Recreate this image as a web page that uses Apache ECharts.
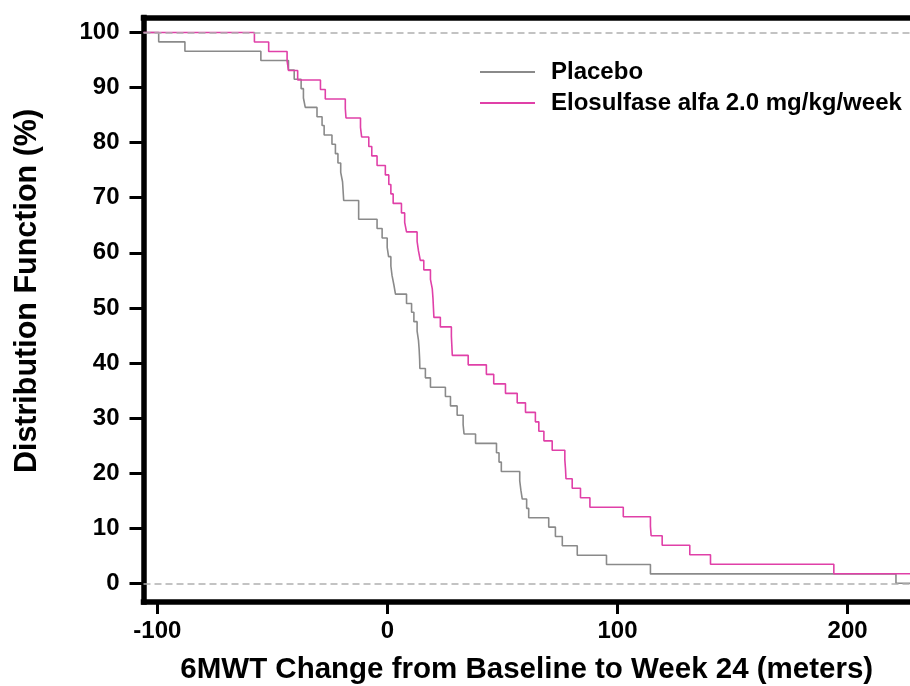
<!DOCTYPE html>
<html>
<head>
<meta charset="utf-8">
<script src="https://cdn.jsdelivr.net/npm/echarts@6/dist/echarts.min.js"></script>
<style>
  html, body { margin: 0; padding: 0; background: #fff; }
  #chart { width: 910px; height: 686px; }
</style>
</head>
<body>
<div id="chart"></div>
<script>
// step points: value holds until the next x, drop happens at each x
const placeboX = [-106, -99.4, -88, -55, -43, -40.5, -37.5, -36.5, -35.7, -30.6, -28.4, -27.5, -24.1, -22.6, -21.5, -20.3, -19.5, -19,
  -12.5, -4.5, -2.3, -0.1, 0.5, 1.5, 2, 2.8, 3.5, 8.3, 10.5, 11.5, 12.9, 13.5, 13.8, 14, 14.1, 16.5, 18.7,
  25.2, 27.4, 30.3, 32.9, 33.3, 38.3, 47.4, 48.5, 49.5, 57.5, 58, 58.6, 60.5, 61.4, 70.1, 73, 76, 82.5, 95.2, 114.3, 221, 240]
const placeboY = [100, 98.3, 96.6, 94.9, 93.2, 91.5, 89.8, 88.1, 86.4, 84.7, 83.1, 81.4, 79.7, 78.0, 76.3, 74.6, 72.9, 69.5,
  66.1, 64.4, 62.7, 61.0, 59.3, 57.6, 55.9, 54.2, 52.5, 50.8, 49.2, 47.5, 45.8, 44.1, 42.4, 40.7, 39.0, 37.3, 35.6,
  33.9, 32.2, 30.5, 28.8, 27.1, 25.4, 23.7, 22.0, 20.3, 18.6, 16.9, 15.3, 13.6, 11.9, 10.2, 8.5, 6.8, 5.1, 3.4, 1.7, 0, 0]

const eloX = [-106, -57.8, -51.6, -43.6, -43, -39, -29.1, -27, -18.3, -18, -11.7, -11.2, -8.1, -6.8, -4.5, -0.9, 0.6, 1.5, 2.5,
  6.1, 7.5, 8.3, 12.9, 13.5, 14.3, 15.8, 18.7, 19.5, 19.8, 20, 20.2, 23, 27.8, 28, 28.2, 35.1, 43, 46.2, 51.3, 56.4,
  60, 64.3, 65.8, 68, 71.6, 77.1, 77.4, 77.6, 80.3, 83.9, 88, 102.5, 114.3, 114.6, 119.4, 131.4, 140.4, 194, 240]
const eloY = [100, 98.28, 96.55, 94.83, 93.1, 91.38, 89.66, 87.93, 86.21, 84.48, 82.76, 81.03, 79.31, 77.59, 75.86, 74.14, 72.41, 70.69, 68.97,
  67.24, 65.52, 63.79, 62.07, 60.34, 58.62, 56.9, 55.17, 53.45, 51.72, 50.0, 48.28, 46.55, 44.83, 43.1, 41.38, 39.66, 37.93, 36.21, 34.48, 32.76,
  31.03, 29.31, 27.59, 25.86, 24.14, 22.41, 20.69, 18.97, 17.24, 15.52, 13.79, 12.07, 10.34, 8.62, 6.9, 5.17, 3.45, 1.72, 1.72]

const xTicks = [-100, 0, 100, 200]
const yTicks = [0, 10, 20, 30, 40, 50, 60, 70, 80, 90, 100]
const refLines = [0, 100]

const font = '"Liberation Sans", Arial, sans-serif'
const frame = { show: true, onZero: false, lineStyle: { color: '#000', width: 5.5, cap: 'square' } }

const toPairs = (xs, ys) => xs.map((x, i) => [x, ys[i]])

const chart = echarts.init(document.getElementById('chart'))
chart.setOption({
  animation: false,
  textStyle: { fontFamily: font },
  grid: {
    left: 143.5,
    right: 0,
    top: 17.5,
    bottom: 84,
    outerBoundsMode: 'none',
  },
  legend: {
    orient: 'vertical',
    left: 475,
    top: 55,
    icon: 'rect',
    itemWidth: 55,
    itemHeight: 2,
    itemGap: 7,
    textStyle: {
      fontFamily: font,
      fontSize: 24,
      fontWeight: 'bold',
      color: '#000',
      padding: [0, 0, 0, 11],
    },
    data: ['Placebo', 'Elosulfase alfa 2.0 mg/kg/week'],
  },
  xAxis: [{
    type: 'value',
    position: 'bottom',
    min: -106,
    max: 227.1,
    name: '6MWT Change from Baseline to Week 24 (meters)',
    nameLocation: 'middle',
    nameGap: 53,
    nameTextStyle: { fontSize: 29.5, fontWeight: 'bold', color: '#000', fontFamily: font },
    splitLine: { show: false },
    axisLine: frame,
    axisTick: {
      show: true,
      length: 12,
      customValues: xTicks,
      lineStyle: { color: '#000', width: 3 },
    },
    axisLabel: {
      customValues: xTicks,
      margin: 17,
      fontSize: 24,
      fontWeight: 'bold',
      color: '#000',
      fontFamily: font,
    },
  }, {
    // top edge of the frame only
    type: 'value',
    position: 'top',
    min: -106,
    max: 227.1,
    splitLine: { show: false },
    axisLine: frame,
    axisTick: { show: false },
    axisLabel: { show: false },
  }],
  yAxis: {
    type: 'value',
    min: -3.4,
    max: 102.72,
    splitLine: { show: false },
    axisLine: frame,
    axisTick: {
      show: true,
      length: 14,
      customValues: yTicks,
      lineStyle: { color: '#000', width: 3 },
    },
    axisLabel: {
      customValues: yTicks,
      margin: 24,
      fontSize: 24,
      fontWeight: 'bold',
      color: '#000',
      fontFamily: font,
    },
  },
  graphic: [{
    type: 'text',
    x: 28,
    y: 291,
    rotation: Math.PI / 2,
    style: {
      text: 'Distribution Function (%)',
      fontSize: 30.5,
      fontWeight: 'bold',
      fontFamily: font,
      fill: '#000',
      align: 'center',
      verticalAlign: 'middle',
    },
  }],
  series: [
    {
      name: 'Placebo',
      type: 'line',
      step: 'end',
      showSymbol: false,
      symbol: 'none',
      lineStyle: { color: '#8a8a8a', width: 1.6 },
      itemStyle: { color: '#8a8a8a' },
      data: toPairs(placeboX, placeboY),
      markLine: {
        silent: true,
        symbol: 'none',
        label: { show: false },
        lineStyle: { color: '#b0b0b0', type: [7, 4], width: 1.5 },
        data: refLines.map(v => ({ yAxis: v })),
      },
    },
    {
      name: 'Elosulfase alfa 2.0 mg/kg/week',
      type: 'line',
      step: 'end',
      showSymbol: false,
      symbol: 'none',
      lineStyle: { color: '#e040a8', width: 1.6 },
      itemStyle: { color: '#e040a8' },
      data: toPairs(eloX, eloY),
    },
  ],
})
</script>
</body>
</html>
